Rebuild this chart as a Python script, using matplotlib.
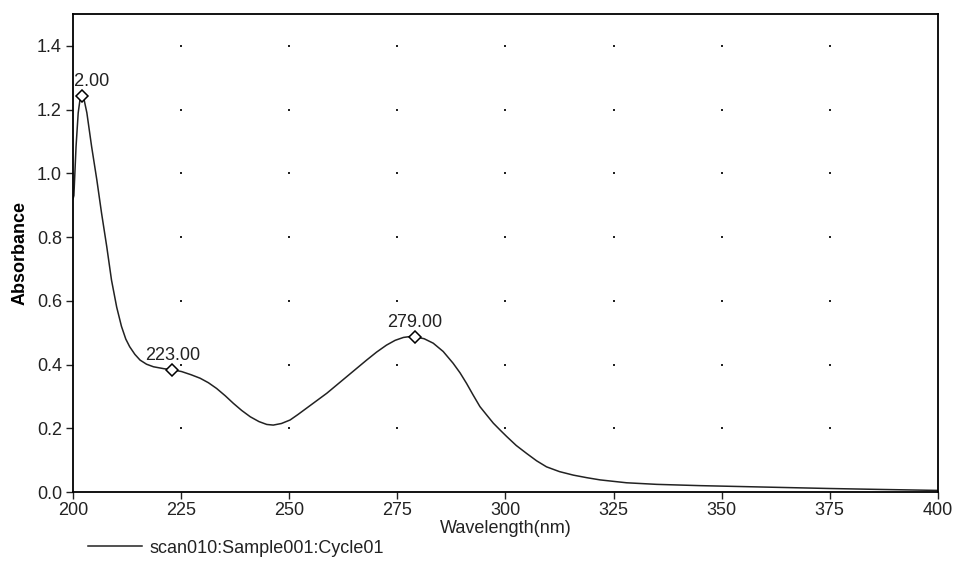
import matplotlib.pyplot as plt
import numpy as np

plt.rcParams['font.family'] = ['Liberation Sans', 'DejaVu Sans']

# spectrum
wavelength = [200, 200.2, 200.7, 201.2, 201.6, 202, 202.5, 203.2, 204.3, 205.5, 206.6,
              207.8, 208.9, 210.1, 211.2, 212.2, 213.1, 214.3, 215.5, 217, 218.6, 221,
              223.2, 225.1, 227.3, 229.4, 231.3, 233.2, 235.2, 237.1, 239, 241, 243,
              244.8, 246.3, 248.2, 250.2, 252, 254, 256.3, 258.7, 261, 263.3, 265.6,
              267.9, 270.2, 272.5, 274.5, 276.4, 278, 279.1, 281.2, 283.3, 285.6, 287.9,
              289.5, 291, 292.5, 294.1, 295.7, 297.2, 298.8, 300.3, 302.5, 304.9, 307.2,
              309.5, 312.5, 315.7, 318.8, 321.9, 328, 335, 345, 355, 365, 375, 387, 400]
absorbance = [0.92, 0.93, 1.084, 1.19, 1.23, 1.243, 1.235, 1.19, 1.084, 0.98, 0.875,
              0.77, 0.665, 0.58, 0.52, 0.48, 0.456, 0.432, 0.414, 0.401, 0.393, 0.387,
              0.383, 0.378, 0.368, 0.357, 0.343, 0.325, 0.302, 0.278, 0.256, 0.236,
              0.221, 0.212, 0.21, 0.215, 0.226, 0.243, 0.263, 0.286, 0.31, 0.336, 0.362,
              0.388, 0.414, 0.439, 0.461, 0.476, 0.485, 0.488, 0.487, 0.481, 0.467,
              0.441, 0.404, 0.374, 0.341, 0.305, 0.268, 0.241, 0.216, 0.194, 0.174,
              0.146, 0.121, 0.098, 0.079, 0.064, 0.053, 0.045, 0.038, 0.029, 0.024,
              0.02, 0.017, 0.014, 0.011, 0.008, 0.005]

peak_wl = [202, 223, 279]
peak_abs = [1.243, 0.383, 0.487]
peak_labels = ["202.00", "223.00", "279.00"]

x_ticks = [200, 225, 250, 275, 300, 325, 350, 375, 400]
y_ticks = [0.0, 0.2, 0.4, 0.6, 0.8, 1.0, 1.2, 1.4]

fig = plt.figure(figsize=(9.57, 5.8), dpi=100)
ax = fig.add_axes([0.0763, 0.1517, 0.9037, 0.8242])

# dotted grid: a dot at each tick crossing
gx, gy = np.meshgrid(x_ticks[1:-1], y_ticks[1:])
ax.scatter(gx.ravel(), gy.ravel(), s=3, color="#222222", marker="s", linewidths=0, zorder=1)

line, = ax.plot(wavelength, absorbance, color="#222222", linewidth=1.1, zorder=2)
ax.plot(peak_wl, peak_abs, linestyle="none", marker="D", markersize=6.5,
        markerfacecolor="white", markeredgecolor="black", markeredgewidth=1.1, zorder=3)
for wl, a, lab in zip(peak_wl, peak_abs, peak_labels):
    ax.annotate(lab, (wl, a), xytext=(0, 4), textcoords="offset points",
                ha="center", va="bottom", fontsize=13, color="#222222",
                annotation_clip=False, clip_on=True)

ax.set_xlim(200, 400)
ax.set_ylim(0, 1.5)
ax.set_xticks(x_ticks)
ax.set_yticks(y_ticks)
ax.set_yticklabels([f"{v:.1f}" for v in y_ticks])
ax.tick_params(labelsize=13, length=5, width=1, colors="#222222", pad=3)
ax.tick_params(axis="x", pad=2)
for s in ax.spines.values():
    s.set_linewidth(1.3)

ax.set_xlabel("Wavelength(nm)", fontsize=13, labelpad=1, color="#222222")
ax.set_ylabel("Absorbance", fontsize=13, fontweight="bold", labelpad=6)

fig.legend([line], ["scan010:Sample001:Cycle01"], loc="lower left",
           bbox_to_anchor=(0.075, 0.012), frameon=False, fontsize=13,
           handlelength=3.0, handletextpad=0.4, labelcolor="#222222")

fig.savefig("out.png", dpi=100)
